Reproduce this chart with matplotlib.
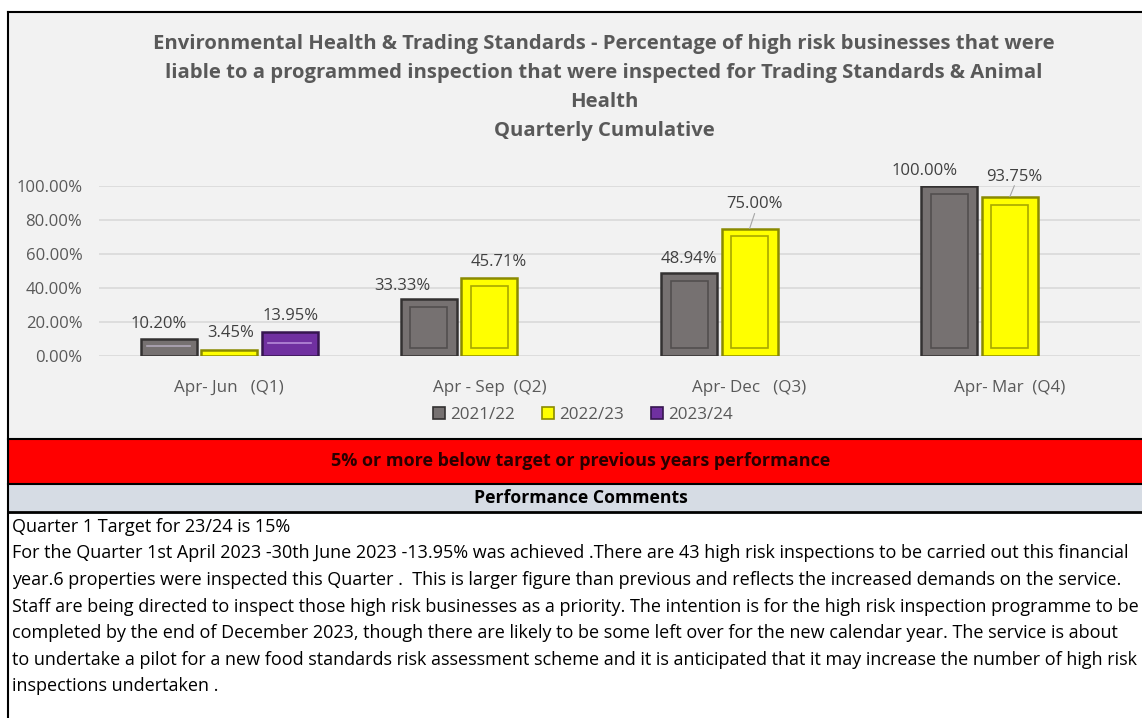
import numpy as np
import matplotlib
matplotlib.use("Agg")
import matplotlib.pyplot as plt
from matplotlib import font_manager as fm
from matplotlib.patches import Rectangle, Patch
from matplotlib.lines import Line2D

# ---- data ----
categories = ["Apr- Jun   (Q1)", "Apr - Sep  (Q2)", "Apr- Dec   (Q3)", "Apr- Mar  (Q4)"]
series_names = ["2021/22", "2022/23", "2023/24"]
v2122 = [10.20, 33.33, 48.94, 100.00]
v2223 = [3.45, 45.71, 75.00, 93.75]
v2324 = [13.95, np.nan, np.nan, np.nan]
yticks = [0, 20, 40, 60, 80, 100]

title_lines = [
    "Environmental Health & Trading Standards - Percentage of high risk businesses that were",
    "liable to a programmed inspection that were inspected for Trading Standards & Animal",
    "Health",
    "Quarterly Cumulative",
]
status_text = "5% or more below target or previous years performance"
comments_header = "Performance Comments"
comments = [
    "Quarter 1 Target for 23/24 is 15%",
    "For the Quarter 1st April 2023 -30th June 2023 -13.95% was achieved .There are 43 high risk inspections to be carried out this financial",
    "year.6 properties were inspected this Quarter .  This is larger figure than previous and reflects the increased demands on the service.",
    "Staff are being directed to inspect those high risk businesses as a priority. The intention is for the high risk inspection programme to be",
    "completed by the end of December 2023, though there are likely to be some left over for the new calendar year. The service is about",
    "to undertake a pilot for a new food standards risk assessment scheme and it is anticipated that it may increase the number of high risk",
    "inspections undertaken .",
]


def pick(*names):
    for n in names:
        try:
            fm.findfont(fm.FontProperties(family=n), fallback_to_default=False)
            return n
        except ValueError:
            pass
    return "DejaVu Sans"


FONT = pick("Liberation Sans Narrow", "Open Sans", "Lato")
plt.rcParams["font.family"] = FONT

W, H = 1142, 718
fig = plt.figure(figsize=(W / 100, H / 100), dpi=100)
fig.patch.set_facecolor("white")


def fx(x):
    return x / W


def fy(y):
    return 1 - y / H


def rect(x0, y0, x1, y1, color):
    fig.patches.append(Rectangle((fx(x0), fy(y1)), fx(x1) - fx(x0), fy(y0) - fy(y1),
                                 transform=fig.transFigure, facecolor=color,
                                 edgecolor="none", zorder=-2))


def hline(y, x0, x1, lw=1.5):
    fig.lines.append(Line2D([fx(x0), fx(x1)], [fy(y), fy(y)], transform=fig.transFigure,
                            color="black", lw=lw, zorder=-1))


# panels
rect(8, 12, W, 438, "#f2f2f2")
rect(8, 439, W, 483, "#ff0000")
rect(8, 484, W, 511, "#d6dce4")
hline(12, 8, W)
hline(438.5, 8, W)
hline(483.5, 8, W)
hline(511.5, 8, W, lw=2)
fig.lines.append(Line2D([fx(8), fx(8)], [fy(12), 0], transform=fig.transFigure,
                        color="black", lw=1.5, zorder=-1))

renderer = fig.canvas.get_renderer()


def fit(t, width_px):
    w = t.get_window_extent(renderer).width
    t.set_fontsize(t.get_fontsize() * width_px / w)
    return t.get_fontsize()


# title
t0 = fig.text(fx(604), fy(44), title_lines[0], ha="center", va="center",
              fontsize=14, fontweight="bold", color="#595959")
tsize = fit(t0, 902)
for y, line in zip([73, 102, 131], title_lines[1:]):
    fig.text(fx(604), fy(y), line, ha="center", va="center", fontsize=tsize,
             fontweight="bold", color="#595959")

# bar chart
ax = fig.add_axes([fx(99), fy(356), fx(1140) - fx(99), fy(186) - fy(356)], zorder=2)
ax.set_facecolor("none")
x = np.arange(len(categories))
bw = 56 / 260.5
step = 60.5 / 260.5
styles = [
    ("#767171", "#333131", "#524f4f"),
    ("#ffff00", "#8a8a00", "#a8a800"),
    ("#7030a0", "#36164f", "#a56fd0"),
]
for k, vals in enumerate([v2122, v2223, v2324]):
    fc, ec, ic = styles[k]
    xs = x + (k - 1) * step
    vals = np.array(vals)
    ax.bar(xs, vals, width=bw, color=fc, edgecolor=ec, linewidth=1.8, zorder=3)
    for xi, v in zip(xs, vals):
        if np.isnan(v):
            continue
        if v > 15:
            # bevel: inner frame
            ax.bar(xi, v - 9.4, bottom=4.7, width=bw * 0.66, color="none",
                   edgecolor=ic, linewidth=1.2, zorder=4)
        elif v > 6:
            ax.plot([xi - bw * 0.38, xi + bw * 0.38], [v * 0.55, v * 0.55],
                    color="#b0a8b8" if k != 2 else "#b58ad8", lw=1.2, zorder=4)

ax.set_xlim(-0.5, len(categories) - 0.5)
ax.set_ylim(0, 100)
ax.set_yticks(yticks)
ax.set_yticklabels([f"{v:.2f}%" for v in yticks])
ax.set_xticks(x)
ax.set_xticklabels(categories)
ax.grid(axis="y", color="#d9d9d9", lw=1.2, zorder=0)
ax.set_axisbelow(True)
for s in ax.spines.values():
    s.set_visible(False)
ax.tick_params(length=0, colors="#595959")
ax.tick_params(axis="y", pad=12)
ax.tick_params(axis="x", pad=17)

ylab = ax.get_yticklabels()[-1]
ysz = fit(ylab, 66)
for lab in ax.get_yticklabels():
    lab.set_fontsize(ysz)
xl = ax.get_xticklabels()[1]
xsz = fit(xl, 113)
for lab in ax.get_xticklabels():
    lab.set_fontsize(xsz)

# data labels with manual offsets (pixels)
offsets = {
    (0, 0): (-9.5, 15), (0, 1): (-26.5, 13), (0, 2): (0, 14), (0, 3): (-24.5, 15),
    (1, 0): (2, 17), (1, 1): (9, 16), (1, 2): (5, 24), (1, 3): (4.5, 20),
    (2, 0): (1, 16),
}
leaders = {(1, 2), (1, 3)}
for k, vals in enumerate([v2122, v2223, v2324]):
    for i, v in enumerate(vals):
        if np.isnan(v):
            continue
        dx, dy = offsets[(k, i)]
        xi = x[i] + (k - 1) * step
        ax.annotate(f"{v:.2f}%", (xi, v), xytext=(dx, dy), textcoords="offset pixels",
                    ha="center", va="center", color="#404040", fontsize=11, zorder=6,
                    annotation_clip=False)
        if (k, i) in leaders:
            ax.annotate("", (xi, v), xytext=(dx, dy - 9), textcoords="offset pixels",
                        arrowprops=dict(arrowstyle="-", color="#a6a6a6", lw=0.8,
                                        shrinkA=0, shrinkB=0), zorder=5)

# fit data label size from the 100.00% label
labels = [t for t in ax.texts if t.get_text()]
ref = [t for t in labels if t.get_text() == "100.00%"][0]
dsz = fit(ref, 65)
for t in labels:
    t.set_fontsize(dsz)

# legend
handles = [Patch(facecolor=styles[k][0], edgecolor=styles[k][1], lw=1.2) for k in range(3)]
leg = fig.legend(handles, series_names, loc="center", bbox_to_anchor=(fx(583), fy(415)),
                 ncol=3, frameon=False, handlelength=0.7, handleheight=0.7,
                 handletextpad=0.3, columnspacing=1.6, fontsize=xsz)
for t in leg.get_texts():
    t.set_color("#595959")

# status band and comments
st = fig.text(fx(581), fy(461), status_text, ha="center", va="center",
              fontweight="bold", color="#2a0000", fontsize=12)
fit(st, 500)
ph = fig.text(fx(581), fy(498), comments_header, ha="center", va="center",
              fontweight="bold", color="black", fontsize=12)
fit(ph, 213)

ctexts = []
for y, line in zip([527, 553, 580, 607, 633, 660, 686], comments):
    ctexts.append(fig.text(fx(12), fy(y), line, ha="left", va="center",
                           color="black", fontsize=12))
widest = max(ctexts, key=lambda t: t.get_window_extent(renderer).width)
csz = fit(widest, 1126)
for t in ctexts:
    t.set_fontsize(csz)

fig.savefig("out.png", dpi=100)
